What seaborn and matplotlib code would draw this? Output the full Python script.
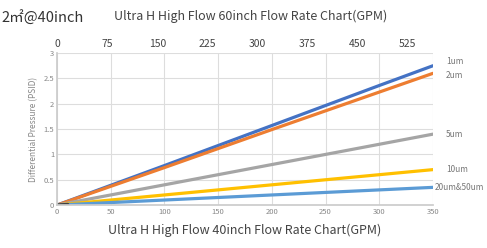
import pandas as pd
import matplotlib
matplotlib.use('Agg')
import matplotlib.pyplot as plt
import seaborn as sns

# flow rate (GPM) for 40inch, and pressure drop per micron rating
flow = [0, 100, 200, 300, 350]
grades = ['1um', '2um', '5um', '10um', '20um&50um']
dp_1um = [0, 0.78, 1.57, 2.36, 2.75]
dp_2um = [0, 0.74, 1.49, 2.23, 2.60]
dp_5um = [0, 0.40, 0.80, 1.20, 1.40]
dp_10um = [0, 0.20, 0.40, 0.60, 0.70]
dp_20um = [0, 0.10, 0.20, 0.30, 0.35]
top_ticks = [0, 75, 150, 225, 300, 375, 450, 525]
colors = ['#4472C4', '#ED7D31', '#A5A5A5', '#FFC000', '#5B9BD5']

df = pd.DataFrame({
    'flow': flow * 5,
    'dp': dp_1um + dp_2um + dp_5um + dp_10um + dp_20um,
    'grade': sum([[g] * len(flow) for g in grades], []),
})

sns.set_theme(style='whitegrid')
plt.rcParams['font.family'] = ['Noto Sans CJK SC', 'DejaVu Sans']

fig = plt.figure(figsize=(4.87, 2.48), dpi=100)
ax = fig.add_axes([0.117, 0.173, 0.772, 0.613])
sns.lineplot(data=df, x='flow', y='dp', hue='grade', palette=colors,
             linewidth=2.3, legend=False, ax=ax)
# small dark stub at the origin
ax.plot([0, 10], [0, 0.01], color='#404040', linewidth=2.5)

ax.set_xlim(0, 350)
ax.set_ylim(0, 3)
ax.set_xticks(range(0, 351, 50))
ax.set_yticks([0, 0.5, 1, 1.5, 2, 2.5, 3])
ax.set_yticklabels(['0', '0.5', '1', '1.5', '2', '2.5', '3'])
ax.tick_params(axis='both', labelsize=5.5, colors='#888888', pad=2, length=0)
ax.grid(color='#dddddd', linewidth=0.8)
for s in ax.spines.values():
    s.set_visible(False)
ax.spines['left'].set_visible(True)
ax.spines['left'].set_color('#cccccc')
ax.spines['bottom'].set_visible(True)
ax.spines['bottom'].set_color('#cccccc')
ax.set_ylabel('Differential Pressure (PSID)', fontsize=6, color='#888888', labelpad=4)
ax.set_xlabel('Ultra H High Flow 40inch Flow Rate Chart(GPM)', fontsize=9,
              color='#444444', labelpad=6)

ends = [dp_1um[-1], dp_2um[-1], dp_5um[-1], dp_10um[-1], dp_20um[-1]]
offs = [0.08, -0.05, 0, 0, 0]
for g, y, o in zip(grades, ends, offs):
    x = 352 if g == '20um&50um' else 362
    ax.text(x, y + o, g, fontsize=6, color='#777777', va='center', ha='left',
            clip_on=False)

top = ax.twiny()
top.set_xlim(0, 562.5)
top.set_xticks(top_ticks)
top.grid(False)
top.tick_params(axis='x', labelsize=7.5, colors='#444444', length=0, pad=3)
for s in top.spines.values():
    s.set_visible(False)

fig.text(0.515, 0.935, 'Ultra H High Flow 60inch Flow Rate Chart(GPM)', fontsize=9,
         color='#444444', ha='center', va='center')
fig.text(0.002, 0.925, '2㎡@40inch', fontsize=10.5, color='#333333', ha='left', va='center')

fig.savefig('out.png', dpi=100)
